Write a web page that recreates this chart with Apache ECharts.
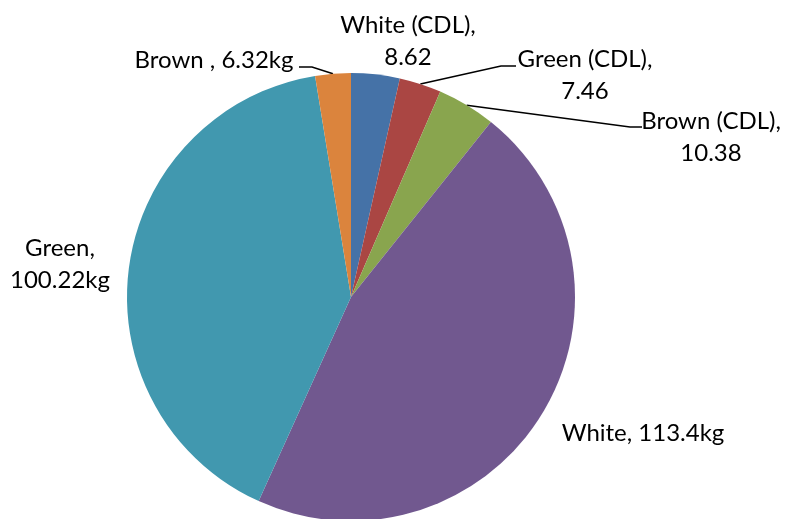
<!DOCTYPE html>
<html>
<head>
<meta charset="utf-8">
<script src="https://cdn.jsdelivr.net/npm/echarts@6/dist/echarts.min.js"></script>
<style>
  html, body { margin: 0; padding: 0; background: #fff; }
  #chart { width: 790px; height: 519px; }
</style>
</head>
<body>
<div id="chart"></div>
<script>
// Glass collected, by colour and source
const names = ['White (CDL)', 'Green (CDL)', 'Brown (CDL)', 'White', 'Green', 'Brown '];
const values = [8.62, 7.46, 10.38, 113.4, 100.22, 6.32];
const units = ['', '', '', 'kg', 'kg', 'kg'];
const twoLine = [true, true, true, false, true, false];
const colors = ['#4572A7', '#AA4643', '#89A54E', '#71588F', '#4198AF', '#DB843D'];

// Label placement: text centre, plus optional leader elbow and end
const labelPlace = [
  { x: 408, y: 41 },
  { x: 585, y: 75, elbow: [501, 66], end: [516, 66] },
  { x: 711, y: 137, elbow: [630, 127], end: [642, 127] },
  { x: 643, y: 433 },
  { x: 60, y: 264 },
  { x: 214, y: 60, elbow: [312, 67], end: [299, 67] }
];

const chart = echarts.init(document.getElementById('chart'), null, { renderer: 'canvas' });

const data = names.map((n, i) => ({
  name: n,
  value: values[i],
  itemStyle: { color: colors[i] },
  labelLine: { show: !!labelPlace[i].elbow }
}));

chart.setOption({
  backgroundColor: '#ffffff',
  animation: false,
  series: [{
    type: 'pie',
    center: [351, 297],
    radius: 224,
    startAngle: 90,
    clockwise: true,
    data: data,
    itemStyle: { borderWidth: 0 },
    label: {
      show: true,
      position: 'outside',
      fontFamily: 'Lato',
      fontSize: 24,
      lineHeight: 32,
      color: '#000',
      align: 'center',
      overflow: 'none',
      formatter: p => {
        const i = p.dataIndex;
        return names[i] + (twoLine[i] ? ',\n' : ', ') + values[i] + units[i];
      }
    },
    labelLine: {
      show: true,
      lineStyle: { color: '#000', width: 1.5 }
    },
    labelLayout: params => {
      const i = params.dataIndex;
      const lp = labelPlace[i];
      const out = {
        x: lp.x,
        y: lp.y,
        align: 'center',
        verticalAlign: 'middle'
      };
      if (lp.elbow && params.labelLinePoints) {
        out.labelLinePoints = [params.labelLinePoints[0], lp.elbow, lp.end];
      }
      return out;
    }
  }]
});
</script>
</body>
</html>
